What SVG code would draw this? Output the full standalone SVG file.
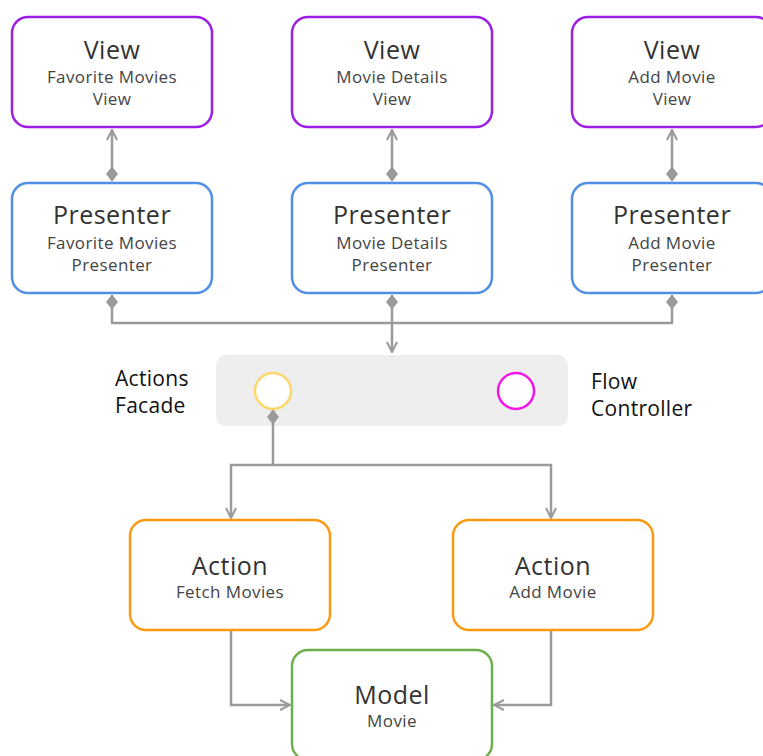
<svg xmlns="http://www.w3.org/2000/svg" width="763" height="756" viewBox="0 0 763 756">
  <style>
    .box { fill: #ffffff; stroke-width: 2.5; }
    .view { stroke: #9d1ee6; }
    .presenter { stroke: #4f8fe6; }
    .action { stroke: #fb9a10; }
    .model { stroke: #6fae4f; }
    .title { font-family: "Open Sans", "Lato", sans-serif; font-size: 25px; letter-spacing: 0.5px; fill: #333333; text-anchor: middle; }
    .sub { font-family: "Open Sans", "Lato", sans-serif; font-size: 17px; letter-spacing: 0.4px; fill: #444444; text-anchor: middle; }
    .label { font-family: "Open Sans", "Lato", sans-serif; font-size: 21px; letter-spacing: 0.3px; fill: #111111; }
    .wire { fill: none; stroke: #9a9a9a; stroke-width: 2.5; }
  </style>
  <defs>
    <marker id="arrow" viewBox="0 0 12 12" refX="11" refY="6" markerWidth="12" markerHeight="12" markerUnits="userSpaceOnUse" orient="auto">
      <path d="M1,1 L11,6 L1,11" fill="none" stroke="#9a9a9a" stroke-width="2"/>
    </marker>
    <marker id="diamond" viewBox="0 0 15 12" refX="0.5" refY="6" markerWidth="15" markerHeight="12" markerUnits="userSpaceOnUse" orient="auto">
      <path d="M0,6 L7.5,0 L15,6 L7.5,12 Z" fill="#9a9a9a"/>
    </marker>
  </defs>

  <rect width="763" height="756" fill="#ffffff"/>

  <!-- facade / flow controller band -->
  <g id="facade-band">
    <rect x="216" y="355" width="352" height="71" rx="10" fill="#eeeeee"/>
  </g>

  <!-- connectors -->
  <g id="connectors">
    <!-- view <-> presenter -->
    <path class="wire" d="M112,181 L112,130" marker-start="url(#diamond)" marker-end="url(#arrow)"/>
    <path class="wire" d="M392,181 L392,130" marker-start="url(#diamond)" marker-end="url(#arrow)"/>
    <path class="wire" d="M672,181 L672,130" marker-start="url(#diamond)" marker-end="url(#arrow)"/>
    <!-- presenters -> facade -->
    <path class="wire" d="M112,295 L112,323 L392,323" marker-start="url(#diamond)"/>
    <path class="wire" d="M672,295 L672,323 L392,323" marker-start="url(#diamond)"/>
    <path class="wire" d="M392,295 L392,352" marker-start="url(#diamond)" marker-end="url(#arrow)"/>
    <!-- facade -> actions -->
    <path class="wire" d="M273,410 L273,465" marker-start="url(#diamond)"/>
    <path class="wire" d="M273,465 L231,465 L231,518" marker-end="url(#arrow)"/>
    <path class="wire" d="M273,465 L551,465 L551,518" marker-end="url(#arrow)"/>
    <!-- actions -> model -->
    <path class="wire" d="M231,631 L231,705 L290,705" marker-end="url(#arrow)"/>
    <path class="wire" d="M551,631 L551,705 L494,705" marker-end="url(#arrow)"/>
  </g>

  <!-- views -->
  <g id="view-favorites">
    <rect class="box view" x="12" y="17" width="200" height="110" rx="16"/>
    <text class="title" x="112" y="59">View</text>
    <text class="sub" x="112" y="83">Favorite Movies</text>
    <text class="sub" x="112" y="105">View</text>
  </g>
  <g id="view-details">
    <rect class="box view" x="292" y="17" width="200" height="110" rx="16"/>
    <text class="title" x="392" y="59">View</text>
    <text class="sub" x="392" y="83">Movie Details</text>
    <text class="sub" x="392" y="105">View</text>
  </g>
  <g id="view-add">
    <rect class="box view" x="572" y="17" width="200" height="110" rx="16"/>
    <text class="title" x="672" y="59">View</text>
    <text class="sub" x="672" y="83">Add Movie</text>
    <text class="sub" x="672" y="105">View</text>
  </g>

  <!-- presenters -->
  <g id="presenter-favorites">
    <rect class="box presenter" x="12" y="183" width="200" height="110" rx="16"/>
    <text class="title" x="112" y="224">Presenter</text>
    <text class="sub" x="112" y="249">Favorite Movies</text>
    <text class="sub" x="112" y="271">Presenter</text>
  </g>
  <g id="presenter-details">
    <rect class="box presenter" x="292" y="183" width="200" height="110" rx="16"/>
    <text class="title" x="392" y="224">Presenter</text>
    <text class="sub" x="392" y="249">Movie Details</text>
    <text class="sub" x="392" y="271">Presenter</text>
  </g>
  <g id="presenter-add">
    <rect class="box presenter" x="572" y="183" width="200" height="110" rx="16"/>
    <text class="title" x="672" y="224">Presenter</text>
    <text class="sub" x="672" y="249">Add Movie</text>
    <text class="sub" x="672" y="271">Presenter</text>
  </g>

  <g id="actions-facade">
    <circle cx="273" cy="391" r="18" fill="#ffffff" stroke="#fbd76a" stroke-width="2.5"/>
    <text class="label" x="115" y="386">Actions</text>
    <text class="label" x="115" y="413">Facade</text>
  </g>
  <g id="flow-controller">
    <circle cx="516" cy="391" r="18" fill="#ffffff" stroke="#f316e8" stroke-width="2.5"/>
    <text class="label" x="591" y="389">Flow</text>
    <text class="label" x="591" y="416">Controller</text>
  </g>

  <!-- actions -->
  <g id="action-fetch">
    <rect class="box action" x="130" y="520" width="200" height="110" rx="16"/>
    <text class="title" x="230" y="575">Action</text>
    <text class="sub" x="230" y="598">Fetch Movies</text>
  </g>
  <g id="action-add">
    <rect class="box action" x="453" y="520" width="200" height="110" rx="16"/>
    <text class="title" x="553" y="575">Action</text>
    <text class="sub" x="553" y="598">Add Movie</text>
  </g>

  <!-- model -->
  <g id="model-movie">
    <rect class="box model" x="292" y="650" width="200" height="110" rx="16"/>
    <text class="title" x="392" y="704">Model</text>
    <text class="sub" x="392" y="727">Movie</text>
  </g>
</svg>
